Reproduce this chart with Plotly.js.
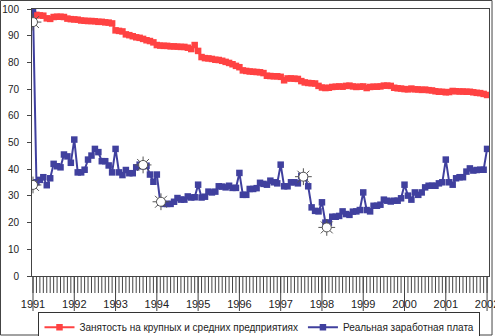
<!DOCTYPE html>
<html>
<head>
<meta charset="utf-8">
<script src="https://cdn.plot.ly/plotly-3.0.1.min.js"></script>
<style>html,body{margin:0;padding:0;background:#fff;}#chart{width:495px;height:336px;}</style>
</head>
<body>
<div id="chart"></div>
<script>
// Monthly observations from January 1991 to January 2002
const startYear = 1991;
const yearLabels = ["1991","1992","1993","1994","1995","1996","1997","1998","1999","2000","2001","2002"];

const employment = [
  98.0, 97.8, 97.6, 97.5, 96.5, 96.3, 97.0, 97.1, 97.1, 97.0, 96.4, 96.2,
  96.1, 96.0, 95.7, 95.6, 95.5, 95.5, 95.4, 95.2, 95.2, 95.0, 94.9, 94.6,
  92.0, 91.8, 91.6, 90.5, 90.2, 89.8, 89.4, 89.2, 88.8, 88.3, 88.0, 87.5,
  86.5, 86.3, 86.2, 86.2, 86.0, 86.0, 85.9, 85.8, 85.8, 85.5, 85.0, 86.5,
  84.3, 82.0, 81.6, 81.5, 81.3, 81.0, 80.9, 80.6, 80.2, 79.8, 79.3, 78.7,
  78.2, 77.0, 76.8, 76.6, 76.5, 76.4, 76.3, 76.0, 75.0, 74.9, 74.8, 74.8,
  74.6, 73.3, 74.0, 74.0, 73.9, 73.8, 73.0, 72.5, 72.3, 72.2, 72.1, 71.2,
  70.6, 70.4, 70.5, 70.8, 70.9, 71.0, 70.9, 71.2, 71.3, 71.0, 70.8, 70.9,
  71.0, 70.4, 70.8, 70.9, 70.9, 71.0, 71.3, 71.3, 71.2, 70.5, 70.3, 70.2,
  70.0, 69.9, 70.2, 69.9, 69.9, 69.7, 69.8, 69.6, 69.5, 69.2, 69.0, 69.0,
  68.8, 68.9, 69.3, 69.2, 69.1, 69.1, 69.0, 69.0, 68.8, 68.6, 68.5, 68.2,
  67.8
];

const realWage = [
  100.0, 35.1, 36.0, 37.0, 34.0, 36.6, 42.0, 41.1, 40.7, 45.5, 44.8, 42.4,
  51.1, 38.8, 38.8, 39.8, 43.6, 45.1, 47.6, 46.4, 43.0, 43.0, 41.4, 38.8,
  47.6, 38.8, 37.8, 39.7, 38.5, 38.5, 40.7, 41.7, 41.1, 41.3, 38.0, 35.3,
  38.0, 27.6, 27.0, 27.0, 27.0, 27.8, 29.2, 28.6, 28.6, 29.8, 29.4, 29.5,
  34.2, 29.4, 29.7, 31.6, 31.3, 31.6, 33.6, 33.5, 33.2, 33.8, 33.0, 33.0,
  38.6, 30.4, 30.4, 32.6, 32.6, 32.9, 34.9, 34.5, 34.2, 35.7, 35.1, 34.7,
  41.7, 33.6, 33.6, 35.1, 35.1, 34.7, 37.5, 37.0, 33.6, 25.7, 24.4, 24.2,
  27.6, 20.0, 20.0, 22.2, 22.2, 22.5, 24.2, 23.2, 22.9, 24.1, 24.2, 24.7,
  31.3, 24.7, 24.2, 26.3, 26.3, 26.7, 28.6, 28.2, 27.9, 28.2, 28.2, 29.1,
  34.2, 30.1, 28.6, 31.3, 30.4, 31.3, 33.2, 33.8, 33.8, 33.8, 34.7, 35.1,
  43.6, 35.1, 34.2, 36.6, 37.0, 37.0, 39.1, 40.3, 39.5, 39.7, 39.8, 39.8,
  47.6
];

// Highlighted ("explosion") points, in months since January 1991
const highlightMonth = [0, 0, 32, 37.2, 78.6, 85.4];
const highlightValue = [95.1, 34.1, 41.6, 27.8, 37.2, 18.2];

const monthToYear = m => startYear + m / 12;
const xs = employment.map((_, i) => monthToYear(i));
const hx = highlightMonth.map(monthToYear);
const yearVals = yearLabels.map(Number);

const seriesNames = ["Занятость на крупных и средних предприятиях", "Реальная заработная плата"];
const redColor = "#ff4242";
const blueColor = "#40409e";
const frameColor = "#444444";
const fontFam = "Liberation Sans, Arial, sans-serif";
const xRange = [monthToYear(-0.29), monthToYear(132.56)];
const plotHeightPx = 267;

const traces = [
  {
    x: xs, y: employment, name: seriesNames[0], type: "scatter", mode: "lines+markers",
    line: {color: redColor, width: 2},
    marker: {symbol: "square", size: 6.5, color: redColor}
  },
  {
    x: xs, y: realWage, name: seriesNames[1], type: "scatter", mode: "lines+markers",
    line: {color: blueColor, width: 2},
    marker: {symbol: "square", size: 6.5, color: blueColor}
  },
  {
    x: hx, y: highlightValue, type: "scatter", mode: "markers", showlegend: false, hoverinfo: "skip",
    marker: {symbol: "asterisk-open", size: 14, color: "#555", line: {color: "#555", width: 1}}
  },
  {
    x: hx, y: highlightValue, type: "scatter", mode: "markers", showlegend: false, hoverinfo: "skip",
    marker: {symbol: "circle", size: 9, color: "#ffffff", line: {color: "#555", width: 1}}
  }
];

// Category tick marks on the x scale: short monthly ticks, long yearly ticks
const monthTickShapes = xs.map(v => ({
  type: "line", xref: "x", yref: "paper", x0: v, x1: v, y0: 0, y1: -17 / plotHeightPx,
  line: {color: frameColor, width: 1}, layer: "above"
}));
const yearTickShapes = yearVals.map(v => ({
  type: "line", xref: "x", yref: "paper", x0: v, x1: v, y0: 0, y1: -35 / plotHeightPx,
  line: {color: frameColor, width: 1}, layer: "above"
}));

const layout = {
  width: 495, height: 336,
  margin: {l: 32, r: 6, t: 9, b: 60, pad: 0, autoexpand: false},
  paper_bgcolor: "#ffffff", plot_bgcolor: "#ffffff",
  font: {family: fontFam, size: 11, color: "#222"},
  showlegend: true,
  legend: {
    orientation: "h", x: 0.4978, xanchor: "center", y: -0.134, yanchor: "top",
    bordercolor: "#333", borderwidth: 1, bgcolor: "#fff",
    font: {family: fontFam, size: 10, color: "#222"},
    itemwidth: 30, tracegroupgap: 0
  },
  xaxis: {
    type: "linear", range: xRange,
    tickmode: "array", tickvals: yearVals, ticktext: yearLabels,
    ticks: "outside", ticklen: 17, tickwidth: 1, tickcolor: "rgba(0,0,0,0)",
    ticklabelstandoff: 1, ticklabeloverflow: "allow",
    tickfont: {family: fontFam, size: 11, color: "#222"},
    showgrid: false, zeroline: false,
    showline: true, linecolor: frameColor, linewidth: 1, mirror: true,
    automargin: false, fixedrange: true
  },
  yaxis: {
    range: [0, 100], dtick: 10, tick0: 0,
    ticks: "outside", ticklen: 4, tickwidth: 1, tickcolor: frameColor,
    ticklabelstandoff: 6,
    tickfont: {family: fontFam, size: 10, color: "#222"},
    showgrid: false, zeroline: false,
    showline: true, linecolor: frameColor, linewidth: 1, mirror: true,
    automargin: false, fixedrange: true
  },
  shapes: monthTickShapes.concat(yearTickShapes, [
    {type: "rect", xref: "paper", yref: "paper", x0: -0.0689, x1: 1.0066, y0: -0.221, y1: 1.0318,
     line: {color: frameColor, width: 1}, fillcolor: "rgba(0,0,0,0)", layer: "above"}
  ])
};

Plotly.newPlot("chart", traces, layout, {staticPlot: true, displayModeBar: false});
</script>
</body>
</html>
